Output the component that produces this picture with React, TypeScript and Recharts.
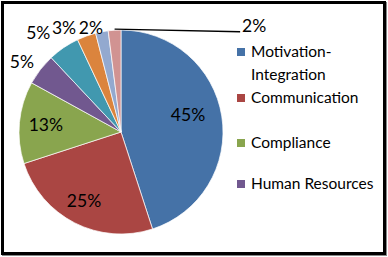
import { PieChart, Pie, Cell, Legend } from 'recharts';

const categories = [
  'Motivation-Integration',
  'Communication',
  'Compliance',
  'Human Resources',
  'Other 1',
  'Other 2',
  'Other 3',
  'Other 4'
];
const shares = [45, 25, 13, 5, 5, 3, 2, 2];
const legendCount = 4;

const palette = ['#4572A7', '#AA4643', '#89A54E', '#71588F', '#4198AF', '#DB843D', '#93A9CF', '#D19392'];

// label distance (x radius) and angle nudge (deg) for each slice label
const labelRadius = [0.68, 0.76, 0.74, 1.19, 1.27, 1.17, 1.07, 1.67];
const labelNudge = [6, -1.5, 0, 2.5, 5.5, 8.7, 5.2, -55];

const data = categories.map((name, i) => ({ name, value: shares[i] }));

const RAD = Math.PI / 180;
const FONT = 'Lato, "Open Sans", sans-serif';

const renderLabel = (props: any) => {
  const { cx, cy, outerRadius, midAngle, index, value } = props;
  const a = (midAngle + labelNudge[index]) * RAD;
  const r = outerRadius * labelRadius[index];
  const x = cx + r * Math.cos(a);
  const y = cy - r * Math.sin(a);
  const text = (
    <text x={x} y={y} textAnchor="middle" dominantBaseline="central" fontSize={17.5} fontFamily={FONT} fill="#000">
      {value}%
    </text>
  );
  if (labelRadius[index] < 1.5) return text;
  const sx = cx + outerRadius * Math.cos(midAngle * RAD);
  const sy = cy - outerRadius * Math.sin(midAngle * RAD);
  return (
    <g>
      <line x1={sx} y1={sy - 1} x2={x - 14} y2={y + 6} stroke="#000" strokeWidth={1.3} />
      {text}
    </g>
  );
};

const gaps = [0, 22, 18, 0];

// legend only lists the first four categories, in data order
const renderLegend = () => (
  <div style={{ fontFamily: FONT, fontSize: 15.5, color: '#000', width: 140 }}>
    {categories.slice(0, legendCount).map((name, i) => (
      <div key={name} style={{ display: 'flex', alignItems: 'flex-start', lineHeight: '23px', marginBottom: gaps[i] }}>
        <span
          style={{
            display: 'inline-block',
            width: 8,
            height: 8,
            marginTop: 8,
            marginRight: 6,
            flexShrink: 0,
            background: palette[i]
          }}
        />
        <span style={{ width: 126 }}>{name}</span>
      </div>
    ))}
  </div>
);

export default function App() {
  return (
    <div style={{ position: 'absolute', left: 0, top: 0, width: 388, height: 257, background: '#fff' }}>
      <div
        style={{
          position: 'absolute',
          left: 1,
          top: 1,
          width: 385,
          height: 254,
          boxSizing: 'border-box',
          border: '3px solid #000',
          boxShadow: '1px 1px 0 #888'
        }}
      />
      <PieChart
        width={388}
        height={257}
        margin={{ top: 0, right: 0, bottom: 0, left: 0 }}
        style={{ position: 'absolute', left: 0, top: 0 }}
      >
        <Pie
          data={data}
          dataKey="value"
          nameKey="name"
          cx={121}
          cy={132}
          outerRadius={102}
          startAngle={90}
          endAngle={-270}
          stroke="#fff"
          strokeWidth={0.7}
          label={renderLabel}
          labelLine={false}
          isAnimationActive={false}
        >
          {data.map((entry, i) => (
            <Cell key={entry.name} fill={palette[i]} />
          ))}
        </Pie>
        <Legend
          layout="vertical"
          align="right"
          verticalAlign="middle"
          content={renderLegend}
          wrapperStyle={{ left: 237, top: 40, width: 145 }}
        />
      </PieChart>
    </div>
  );
}
